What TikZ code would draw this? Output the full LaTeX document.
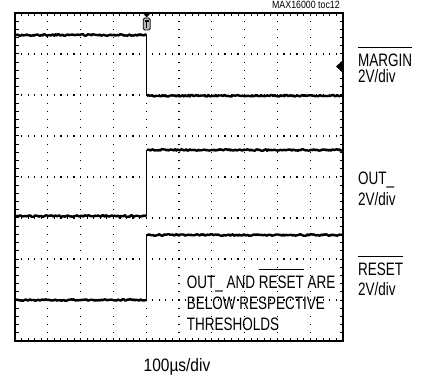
\documentclass[tikz,border=0pt]{standalone}
\usepackage{graphicx}
\usepackage{fontspec}
\setmainfont{Liberation Sans}
\newcommand\ovl[1]{\setbox0\hbox{#1}\rlap{\rule[18.5pt]{\wd0}{0.9pt}}\box0\relax}
\newcommand\nar[1]{\scalebox{0.75}[1]{#1}}
\begin{document}
\begin{tikzpicture}[x=1pt,y=-1pt,
  trace/.style={line width=2.4pt,line join=round},
  edge/.style={line width=0.9pt},
  lbl/.style={anchor=base west,inner sep=0pt,font=\fontsize{18}{21}\selectfont},
  dot/.style={fill=black}]
\useasboundingbox (0,0) rectangle (425,379);
\pgfmathsetseed{7}
% grid dots
\foreach \i in {1,...,9}{
  \foreach \j in {1,...,39}{
    \fill[dot] ({15+32.8*\i-0.6},{13+8.2*\j-0.6}) rectangle ++(1.2,1.2);
  }
}
\foreach \k in {1,...,7}{
  \foreach \j in {1,...,49}{
    \fill[dot] ({15+6.56*\j-0.6},{13+41*\k-0.6}) rectangle ++(1.2,1.2);
  }
}
% border ticks
\foreach \j in {1,...,49}{
  \draw[line width=1pt] ({15+6.56*\j},13) -- ++(0,3.5);
  \draw[line width=1pt] ({15+6.56*\j},341) -- ++(0,-3.5);
}
\foreach \j in {1,...,39}{
  \draw[line width=1pt] (15,{13+8.2*\j}) -- ++(3.5,0);
  \draw[line width=1pt] (343,{13+8.2*\j}) -- ++(-3.5,0);
}
% frame
\draw[line width=2.6pt] (15,13) rectangle (343,341);
% traces
\draw[trace] plot[domain=16:146.5,samples=110] (\x,{35+0.8*rand});
\draw[edge] (146.7,35) -- (146.7,95.7);
\draw[trace] plot[domain=146.9:342,samples=160] (\x,{95.7+0.8*rand});
\draw[trace] plot[domain=16:146.5,samples=110] (\x,{216+0.8*rand});
\draw[edge] (146.7,216) -- (146.7,150);
\draw[trace] plot[domain=146.9:342,samples=160] (\x,{150+0.8*rand});
\draw[trace] plot[domain=16:146.5,samples=110] (\x,{300+0.8*rand});
\draw[edge] (146.7,300) -- (146.7,235);
\draw[trace] plot[domain=146.9:342,samples=160] (\x,{235+0.8*rand});
% trigger marker
\fill (142.7,13) -- (150.7,13) -- (146.7,17.5) -- cycle;
\draw[fill=gray!55,line width=0.8pt,rounded corners=1.5pt] (143.2,18) rectangle (150.2,30);
\draw[line width=1.3pt] (144.6,21) -- (148.8,21) (146.7,21) -- (146.7,28.5);
% ground marker
\fill (342,61) -- (342,72) -- (336,66.5) -- cycle;
% labels
\node[anchor=base east,inner sep=0pt,font=\fontsize{10.5}{12}\selectfont] (tag) at (340,9) {\scalebox{0.84}[1]{MAX16000 toc12}};
\node[lbl] (mlab) at (358,66.7) {\nar{\ovl{MARGIN}}};
\node[lbl] (mdiv) at (358,83) {\nar{2V/div}};
\node[lbl] (olab) at (358,185) {\nar{OUT\_}};
\node[lbl] (odiv) at (358,205.7) {\nar{2V/div}};
\node[lbl] (rlab) at (358,275) {\nar{\ovl{RESET}}};
\node[lbl] (rdiv) at (358,295) {\nar{2V/div}};
\node[lbl] (n1) at (186.7,288.3) {\nar{OUT\_ AND \ovl{RESET} ARE}};
\node[lbl] (n2) at (186.7,309.5) {\nar{BELOW RESPECTIVE}};
\node[lbl] (n3) at (186.7,330.7) {\nar{THRESHOLDS}};
\node[lbl] (tb) at (143.5,371) {\scalebox{0.86}[1]{100µs/div}};
\end{tikzpicture}
\end{document}
